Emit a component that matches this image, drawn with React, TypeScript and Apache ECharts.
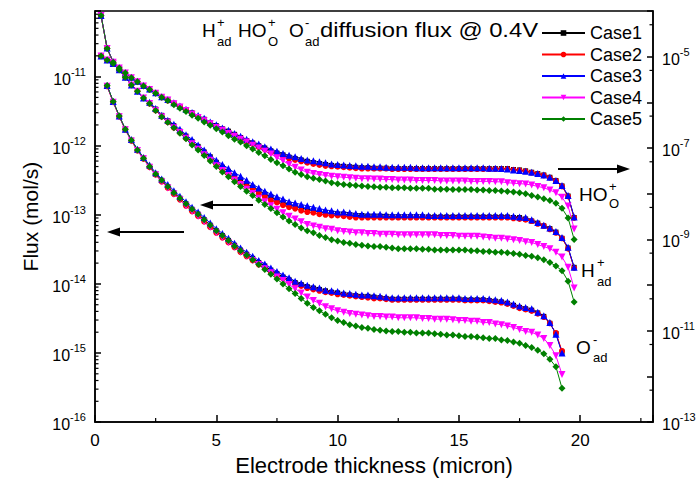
import React, { useEffect, useRef } from "react";
import * as echarts from "echarts";

const FONT = "'Liberation Sans', Arial, Helvetica, sans-serif";

// Electrode thickness (micron) of every sample point
const thickness = [
  0.25, 0.5, 0.75, 1, 1.25, 1.5, 1.75, 2, 2.25, 2.5, 2.75, 3,
  3.25, 3.5, 3.75, 4, 4.25, 4.5, 4.75, 5, 5.25, 5.5, 5.75, 6,
  6.25, 6.5, 6.75, 7, 7.25, 7.5, 7.75, 8, 8.25, 8.5, 8.75, 9,
  9.25, 9.5, 9.75, 10, 10.25, 10.5, 10.75, 11, 11.25, 11.5, 11.75, 12,
  12.25, 12.5, 12.75, 13, 13.25, 13.5, 13.75, 14, 14.25, 14.5, 14.75, 15,
  15.25, 15.5, 15.75, 16, 16.25, 16.5, 16.75, 17, 17.25, 17.5, 17.75, 18,
  18.25, 18.5, 18.75, 19, 19.25, 19.5, 19.75,
];

// All flux values are given as log10(flux / mol s^-1)
// HO+_O flux (right axis)
const hoCase1 = [
  -4.10, -4.82, -5.12, -5.25, -5.36, -5.46, -5.55, -5.64, -5.72, -5.80, -5.89, -5.95,
  -6.02, -6.09, -6.16, -6.23, -6.31, -6.37, -6.45, -6.51, -6.58, -6.63, -6.70, -6.77,
  -6.84, -6.89, -6.95, -7.00, -7.06, -7.11, -7.15, -7.20, -7.23, -7.26, -7.29, -7.32,
  -7.34, -7.36, -7.38, -7.39, -7.40, -7.41, -7.42, -7.43, -7.43, -7.44, -7.44, -7.44,
  -7.45, -7.45, -7.45, -7.45, -7.45, -7.45, -7.45, -7.45, -7.45, -7.45, -7.45, -7.45,
  -7.45, -7.45, -7.45, -7.45, -7.45, -7.45, -7.45, -7.45, -7.47, -7.48, -7.50, -7.53,
  -7.56, -7.59, -7.64, -7.71, -7.83, -8.05, -8.52,
];
const hoCase2 = [
  -4.11, -4.82, -5.12, -5.25, -5.36, -5.46, -5.55, -5.64, -5.72, -5.80, -5.89, -5.96,
  -6.03, -6.10, -6.17, -6.24, -6.32, -6.38, -6.46, -6.53, -6.59, -6.65, -6.72, -6.79,
  -6.86, -6.91, -6.98, -7.03, -7.09, -7.14, -7.18, -7.23, -7.26, -7.29, -7.32, -7.35,
  -7.37, -7.39, -7.40, -7.41, -7.42, -7.43, -7.44, -7.45, -7.45, -7.45, -7.45, -7.45,
  -7.46, -7.46, -7.46, -7.46, -7.46, -7.46, -7.46, -7.46, -7.46, -7.46, -7.46, -7.46,
  -7.46, -7.46, -7.46, -7.46, -7.46, -7.46, -7.46, -7.46, -7.48, -7.49, -7.51, -7.54,
  -7.57, -7.60, -7.65, -7.72, -7.84, -8.06, -8.53,
];
const hoCase3 = [
  -4.10, -4.81, -5.11, -5.24, -5.35, -5.45, -5.54, -5.63, -5.71, -5.79, -5.88, -5.94,
  -6.01, -6.08, -6.15, -6.22, -6.29, -6.35, -6.43, -6.49, -6.56, -6.61, -6.68, -6.74,
  -6.81, -6.86, -6.91, -6.97, -7.02, -7.07, -7.12, -7.16, -7.19, -7.23, -7.26, -7.28,
  -7.30, -7.32, -7.35, -7.36, -7.37, -7.38, -7.39, -7.40, -7.40, -7.41, -7.41, -7.42,
  -7.42, -7.42, -7.42, -7.42, -7.43, -7.43, -7.43, -7.43, -7.43, -7.43, -7.43, -7.43,
  -7.43, -7.43, -7.43, -7.43, -7.44, -7.44, -7.45, -7.46, -7.48, -7.49, -7.51, -7.53,
  -7.56, -7.59, -7.64, -7.71, -7.82, -8.04, -8.51,
];
const hoCase4 = [
  -4.10, -4.82, -5.12, -5.25, -5.36, -5.46, -5.55, -5.64, -5.72, -5.80, -5.89, -5.95,
  -6.03, -6.10, -6.18, -6.26, -6.33, -6.40, -6.47, -6.55, -6.61, -6.68, -6.74, -6.81,
  -6.87, -6.94, -7.00, -7.07, -7.13, -7.21, -7.28, -7.36, -7.42, -7.48, -7.53, -7.56,
  -7.58, -7.60, -7.62, -7.63, -7.64, -7.65, -7.66, -7.67, -7.67, -7.68, -7.68, -7.69,
  -7.69, -7.70, -7.70, -7.70, -7.71, -7.71, -7.71, -7.71, -7.72, -7.72, -7.72, -7.72,
  -7.72, -7.73, -7.73, -7.73, -7.73, -7.74, -7.74, -7.76, -7.77, -7.78, -7.79, -7.81,
  -7.84, -7.87, -7.92, -7.98, -8.08, -8.27, -8.77,
];
const hoCase5 = [
  -4.10, -4.82, -5.12, -5.25, -5.36, -5.46, -5.55, -5.64, -5.72, -5.80, -5.89, -5.96,
  -6.05, -6.13, -6.20, -6.28, -6.35, -6.43, -6.50, -6.58, -6.65, -6.73, -6.81, -6.87,
  -6.95, -7.02, -7.10, -7.17, -7.25, -7.32, -7.39, -7.46, -7.53, -7.58, -7.63, -7.66,
  -7.69, -7.72, -7.76, -7.78, -7.80, -7.81, -7.82, -7.83, -7.84, -7.85, -7.86, -7.86,
  -7.87, -7.87, -7.87, -7.88, -7.88, -7.88, -7.88, -7.90, -7.90, -7.90, -7.91, -7.91,
  -7.91, -7.91, -7.92, -7.92, -7.93, -7.93, -7.94, -7.95, -7.96, -7.98, -8.00, -8.04,
  -8.07, -8.11, -8.15, -8.21, -8.32, -8.53, -9.00,
];

// H+_ad flux (left axis)
const hCase1 = [
  -10.70, -10.76, -10.81, -10.90, -11.01, -11.12, -11.21, -11.31, -11.38, -11.47, -11.56, -11.64,
  -11.71, -11.79, -11.86, -11.94, -12.01, -12.09, -12.16, -12.24, -12.31, -12.37, -12.44, -12.49,
  -12.55, -12.60, -12.65, -12.70, -12.74, -12.79, -12.82, -12.85, -12.88, -12.90, -12.92, -12.94,
  -12.96, -12.97, -12.98, -12.99, -12.99, -13.00, -13.01, -13.01, -13.02, -13.02, -13.02, -13.02,
  -13.03, -13.03, -13.03, -13.03, -13.03, -13.03, -13.03, -13.03, -13.03, -13.03, -13.03, -13.03,
  -13.03, -13.03, -13.03, -13.03, -13.03, -13.03, -13.03, -13.03, -13.04, -13.04, -13.06, -13.09,
  -13.12, -13.16, -13.20, -13.25, -13.34, -13.48, -13.76,
];
const hCase2 = [
  -10.70, -10.76, -10.81, -10.90, -11.01, -11.12, -11.21, -11.31, -11.39, -11.49, -11.58, -11.66,
  -11.74, -11.81, -11.89, -11.96, -12.04, -12.12, -12.20, -12.27, -12.34, -12.41, -12.47, -12.54,
  -12.59, -12.64, -12.69, -12.74, -12.79, -12.82, -12.86, -12.89, -12.91, -12.94, -12.96, -12.97,
  -12.99, -13.00, -13.01, -13.01, -13.02, -13.03, -13.04, -13.04, -13.04, -13.04, -13.04, -13.04,
  -13.04, -13.04, -13.04, -13.04, -13.04, -13.04, -13.04, -13.04, -13.04, -13.04, -13.04, -13.04,
  -13.04, -13.04, -13.04, -13.04, -13.04, -13.04, -13.04, -13.04, -13.05, -13.06, -13.07, -13.09,
  -13.13, -13.16, -13.21, -13.26, -13.34, -13.49, -13.77,
];
const hCase3 = [
  -10.70, -10.76, -10.81, -10.90, -11.01, -11.12, -11.21, -11.31, -11.37, -11.46, -11.56, -11.63,
  -11.69, -11.76, -11.84, -11.91, -11.99, -12.06, -12.14, -12.21, -12.27, -12.33, -12.39, -12.44,
  -12.50, -12.56, -12.61, -12.66, -12.70, -12.74, -12.77, -12.81, -12.83, -12.85, -12.87, -12.89,
  -12.91, -12.93, -12.94, -12.96, -12.96, -12.97, -12.98, -12.99, -12.99, -12.99, -12.99, -13.00,
  -13.00, -13.00, -13.00, -13.00, -13.00, -13.00, -13.01, -13.01, -13.01, -13.01, -13.01, -13.01,
  -13.01, -13.01, -13.01, -13.01, -13.01, -13.01, -13.01, -13.01, -13.02, -13.03, -13.04, -13.07,
  -13.11, -13.15, -13.19, -13.24, -13.33, -13.47, -13.76,
];
const hCase4 = [
  -10.70, -10.76, -10.81, -10.90, -11.01, -11.12, -11.21, -11.31, -11.39, -11.49, -11.58, -11.66,
  -11.74, -11.81, -11.89, -11.97, -12.05, -12.13, -12.21, -12.29, -12.36, -12.43, -12.50, -12.56,
  -12.63, -12.69, -12.76, -12.81, -12.87, -12.92, -12.97, -13.02, -13.06, -13.10, -13.14, -13.16,
  -13.18, -13.20, -13.21, -13.23, -13.24, -13.25, -13.26, -13.26, -13.27, -13.27, -13.28, -13.28,
  -13.28, -13.29, -13.29, -13.29, -13.29, -13.29, -13.29, -13.29, -13.30, -13.30, -13.30, -13.31,
  -13.31, -13.31, -13.31, -13.32, -13.33, -13.34, -13.34, -13.35, -13.36, -13.37, -13.39, -13.40,
  -13.43, -13.46, -13.49, -13.54, -13.61, -13.76, -14.06,
];
const hCase5 = [
  -10.70, -10.76, -10.81, -10.90, -11.01, -11.12, -11.21, -11.31, -11.39, -11.49, -11.58, -11.66,
  -11.74, -11.82, -11.90, -11.99, -12.06, -12.14, -12.22, -12.30, -12.38, -12.45, -12.52, -12.59,
  -12.66, -12.72, -12.79, -12.85, -12.91, -12.97, -13.03, -13.09, -13.14, -13.19, -13.23, -13.26,
  -13.30, -13.33, -13.36, -13.38, -13.40, -13.41, -13.43, -13.44, -13.45, -13.46, -13.46, -13.47,
  -13.48, -13.49, -13.49, -13.49, -13.49, -13.50, -13.50, -13.51, -13.51, -13.51, -13.51, -13.51,
  -13.51, -13.52, -13.52, -13.53, -13.53, -13.54, -13.54, -13.55, -13.56, -13.57, -13.59, -13.60,
  -13.62, -13.65, -13.69, -13.74, -13.81, -13.96, -14.26,
];

// O-_ad flux (left axis), thickness 0.5 ... 19.25
const oCase1 = [
  -11.13, -11.36, -11.57, -11.76, -11.92, -12.06, -12.18, -12.30, -12.41, -12.50, -12.59, -12.68,
  -12.76, -12.84, -12.92, -12.99, -13.07, -13.15, -13.23, -13.30, -13.37, -13.44, -13.51, -13.57,
  -13.63, -13.69, -13.74, -13.80, -13.85, -13.90, -13.94, -13.98, -14.01, -14.04, -14.06, -14.08,
  -14.10, -14.12, -14.13, -14.15, -14.16, -14.17, -14.18, -14.18, -14.19, -14.20, -14.21, -14.22,
  -14.22, -14.22, -14.22, -14.22, -14.22, -14.22, -14.22, -14.22, -14.22, -14.22, -14.22, -14.23,
  -14.23, -14.23, -14.23, -14.24, -14.25, -14.26, -14.28, -14.31, -14.34, -14.36, -14.38, -14.42,
  -14.47, -14.57, -14.72, -14.99,
];
const oCase2 = [
  -11.14, -11.37, -11.58, -11.77, -11.93, -12.07, -12.19, -12.31, -12.42, -12.52, -12.61, -12.70,
  -12.78, -12.87, -12.95, -13.02, -13.10, -13.18, -13.26, -13.33, -13.40, -13.47, -13.54, -13.60,
  -13.66, -13.72, -13.77, -13.83, -13.88, -13.92, -13.96, -14.00, -14.03, -14.06, -14.08, -14.10,
  -14.12, -14.13, -14.15, -14.16, -14.17, -14.18, -14.19, -14.20, -14.21, -14.21, -14.22, -14.23,
  -14.23, -14.23, -14.23, -14.23, -14.23, -14.23, -14.23, -14.23, -14.23, -14.23, -14.23, -14.24,
  -14.24, -14.24, -14.24, -14.25, -14.26, -14.27, -14.29, -14.32, -14.35, -14.37, -14.39, -14.43,
  -14.48, -14.57, -14.71, -14.97,
];
const oCase3 = [
  -11.13, -11.36, -11.57, -11.76, -11.91, -12.05, -12.17, -12.28, -12.39, -12.48, -12.56, -12.65,
  -12.73, -12.81, -12.89, -12.96, -13.04, -13.12, -13.20, -13.27, -13.34, -13.41, -13.48, -13.54,
  -13.60, -13.66, -13.71, -13.77, -13.82, -13.87, -13.91, -13.96, -13.99, -14.02, -14.04, -14.06,
  -14.09, -14.10, -14.11, -14.13, -14.14, -14.15, -14.16, -14.16, -14.17, -14.18, -14.19, -14.20,
  -14.20, -14.20, -14.20, -14.20, -14.20, -14.20, -14.20, -14.20, -14.20, -14.20, -14.20, -14.21,
  -14.21, -14.21, -14.21, -14.22, -14.23, -14.24, -14.26, -14.29, -14.32, -14.34, -14.36, -14.41,
  -14.46, -14.56, -14.73, -15.00,
];
const oCase4 = [
  -11.14, -11.37, -11.58, -11.77, -11.93, -12.07, -12.19, -12.31, -12.42, -12.52, -12.61, -12.70,
  -12.78, -12.87, -12.95, -13.02, -13.10, -13.18, -13.26, -13.33, -13.40, -13.47, -13.54, -13.60,
  -13.66, -13.72, -13.78, -13.84, -13.90, -13.95, -14.01, -14.07, -14.13, -14.19, -14.24, -14.28,
  -14.33, -14.36, -14.39, -14.41, -14.43, -14.44, -14.45, -14.46, -14.47, -14.47, -14.48, -14.48,
  -14.49, -14.49, -14.49, -14.49, -14.50, -14.50, -14.51, -14.51, -14.51, -14.52, -14.53, -14.53,
  -14.54, -14.54, -14.56, -14.56, -14.58, -14.59, -14.61, -14.63, -14.66, -14.69, -14.70, -14.74,
  -14.79, -14.89, -15.04, -15.31,
];
const oCase5 = [
  -11.13, -11.36, -11.57, -11.76, -11.92, -12.06, -12.18, -12.30, -12.41, -12.50, -12.59, -12.68,
  -12.76, -12.84, -12.92, -12.99, -13.07, -13.15, -13.23, -13.30, -13.37, -13.45, -13.52, -13.58,
  -13.65, -13.72, -13.79, -13.86, -13.93, -14.00, -14.07, -14.14, -14.21, -14.28, -14.34, -14.39,
  -14.44, -14.49, -14.53, -14.56, -14.59, -14.61, -14.63, -14.64, -14.66, -14.67, -14.68, -14.69,
  -14.69, -14.70, -14.70, -14.71, -14.71, -14.71, -14.72, -14.73, -14.74, -14.74, -14.75, -14.76,
  -14.76, -14.77, -14.78, -14.79, -14.79, -14.81, -14.82, -14.84, -14.86, -14.89, -14.92, -14.96,
  -15.01, -15.09, -15.20, -15.51,
];

const caseNames = ["Case1", "Case2", "Case3", "Case4", "Case5"];
const xTickLabels = [0, 5, 10, 15, 20];
const xMinorTicks = [2.5, 7.5, 12.5, 17.5, 22.5];
const leftExponents = [-16, -15, -14, -13, -12, -11];
const rightExponents = [-13, -11, -9, -7, -5];

const hoCases = [hoCase1, hoCase2, hoCase3, hoCase4, hoCase5];
const hCases = [hCase1, hCase2, hCase3, hCase4, hCase5];
const oCases = [oCase1, oCase2, oCase3, oCase4, oCase5];

const caseColors = ["#000000", "#ff0000", "#0000ff", "#ff00ff", "#008000"];
const caseSymbols = ["rect", "circle", "triangle", "triangle", "diamond"];
const caseRotate = [0, 0, 0, 180, 0];
const caseSymbolSize = [5, 6, 7, 7, 7];

const oThickness = thickness.slice(1, 77);

const expLabel = (allowed: number[]) => (v: number) => {
  const n = Math.round(v);
  if (Math.abs(v - n) > 1e-6 || !allowed.includes(n)) return "";
  return `{b|10}{s|${n}}`;
};

const rich = {
  b: { fontSize: 16, fontFamily: FONT, color: "#000", verticalAlign: "bottom", lineHeight: 21 },
  s: { fontSize: 11, fontFamily: FONT, color: "#000", verticalAlign: "top", lineHeight: 11 },
};

const lineSeries = (c: number, name: string, xs: number[], ys: number[], yAxisIndex: number) => ({
  type: "line",
  name,
  yAxisIndex,
  data: xs.map((x, i) => [x, ys[i]]),
  symbol: caseSymbols[c],
  symbolSize: caseSymbolSize[c],
  symbolRotate: caseRotate[c],
  showSymbol: true,
  lineStyle: { color: caseColors[c], width: 1 },
  itemStyle: { color: caseColors[c] },
  emphasis: { disabled: true },
  silent: true,
});

const tickSeries = (data: number[][], yAxisIndex: number, dx: number, dy: number) => ({
  type: "custom",
  yAxisIndex,
  silent: true,
  z: 5,
  data,
  renderItem: (_p: any, api: any) => {
    const p = api.coord([api.value(0), api.value(1)]);
    return {
      type: "line",
      shape: { x1: p[0], y1: p[1], x2: p[0] + dx, y2: p[1] + dy },
      style: { stroke: "#000", lineWidth: 1.2 },
    };
  },
});

function buildOption() {
  const series: any[] = [];
  for (let c = 0; c < 5; c++) {
    series.push(lineSeries(c, caseNames[c], thickness, hoCases[c], 1));
    series.push(lineSeries(c, caseNames[c], thickness, hCases[c], 0));
    series.push(lineSeries(c, caseNames[c], oThickness, oCases[c], 0));
  }
  const leftMinor: number[][] = [];
  leftExponents.forEach((n) => {
    for (let m = 2; m <= 9; m++) {
      const v = n + Math.log10(m);
      if (v < -10.05) leftMinor.push([0, v]);
    }
  });
  const rightMinor: number[][] = [];
  for (let n = -13; n <= -5; n++) rightMinor.push([23, n + Math.log10(5)]);
  series.push(tickSeries(leftMinor, 0, 3.5, 0));
  series.push(tickSeries(rightMinor, 1, -3.5, 0));
  series.push(tickSeries(xMinorTicks.map((x) => [x, -16]), 0, 0, -4));

  const txt = (text: string, x: number, y: number, size: number, extra: any = {}, lineHeight?: number) => ({
    type: "text",
    x,
    y,
    silent: true,
    ...extra,
    style: {
      text,
      fontSize: size,
      fontFamily: FONT,
      fill: "#000",
      align: "left",
      verticalAlign: "middle",
      ...(lineHeight ? { lineHeight } : {}),
    },
  });
  // superscript stacked over subscript as one two-line text
  const supSub = (sup: string, sub: string, x: number, yMid: number, gap: number) =>
    txt(`${sup}\n${sub}`, x, yMid, 13, {}, gap);

  const arrow = (x1: number, x2: number, y: number) => {
    const dir = x2 > x1 ? 1 : -1;
    return [
      { type: "line", silent: true, shape: { x1, y1: y, x2: x2 - dir * 10, y2: y }, style: { stroke: "#000", lineWidth: 2 } },
      {
        type: "polygon",
        silent: true,
        shape: { points: [[x2, y], [x2 - dir * 13, y - 4.5], [x2 - dir * 13, y + 4.5]] },
        style: { fill: "#000" },
      },
    ];
  };

  const graphic = [
    txt("H", 202, 30, 19),
    supSub("+", "ad", 217, 31.5, 19),
    txt("HO", 238, 30, 19),
    supSub("+", "O", 268, 31.5, 19),
    txt("O", 289, 30, 19),
    supSub("-", "ad", 305, 31.5, 19),
    txt("diffusion flux @ 0.4V", 320, 30, 20, { scaleX: 1.19 }),
    txt("HO", 579, 194, 19),
    supSub("+", "O", 609, 194.5, 17),
    txt("H", 581, 270, 19),
    supSub("+", "ad", 597, 271.5, 19),
    txt("O", 576, 347, 19),
    supSub("-", "ad", 593, 348, 18),
    ...arrow(558, 630, 169),
    ...arrow(253, 200, 205),
    ...arrow(184, 107, 232),
  ];

  return {
    animation: false,
    backgroundColor: "#ffffff",
    grid: { left: 95, right: 46, top: 11, bottom: 53, show: true, borderColor: "#000", borderWidth: 1.5 },
    legend: {
      data: caseNames,
      orient: "vertical",
      left: 541,
      top: 24,
      padding: 0,
      itemWidth: 43,
      itemHeight: 7,
      itemGap: 3.5,
      selectedMode: false,
      textStyle: { color: "#000", fontSize: 18, fontFamily: FONT },
    },
    xAxis: {
      type: "value",
      min: 0,
      max: 23,
      interval: 5,
      axisLine: { show: true, onZero: false, lineStyle: { color: "#000", width: 1.5 } },
      axisTick: { show: true, inside: true, length: 7, lineStyle: { color: "#000", width: 1.5 } },
      axisLabel: {
        color: "#000",
        fontSize: 17,
        fontFamily: FONT,
        margin: 10,
        formatter: (v: number) => (xTickLabels.includes(v) ? String(v) : ""),
      },
      splitLine: { show: false },
      name: "Electrode thickness (micron)",
      nameLocation: "middle",
      nameGap: 28,
      nameTextStyle: { color: "#000", fontSize: 22, fontFamily: FONT },
    },
    yAxis: [
      {
        type: "value",
        min: -16,
        max: -10.05,
        interval: 1,
        position: "left",
        axisLine: { show: true, onZero: false, lineStyle: { color: "#000", width: 1.5 } },
        axisTick: { show: true, inside: true, length: 6, lineStyle: { color: "#000", width: 1.5 } },
        axisLabel: { formatter: expLabel(leftExponents), rich, margin: 9 },
        splitLine: { show: false },
        name: "Flux (mol/s)",
        nameLocation: "middle",
        nameGap: 50,
        nameRotate: 90,
        nameTextStyle: { color: "#000", fontSize: 21, fontFamily: FONT },
      },
      {
        type: "value",
        min: -13,
        max: -4,
        interval: 1,
        position: "right",
        axisLine: { show: true, onZero: false, lineStyle: { color: "#000", width: 1.5 } },
        axisTick: { show: true, inside: true, length: 6, lineStyle: { color: "#000", width: 1.5 } },
        axisLabel: { formatter: expLabel(rightExponents), rich, margin: 9 },
        splitLine: { show: false },
      },
    ],
    series,
    graphic,
  };
}

export default function App() {
  const ref = useRef<HTMLDivElement>(null);
  useEffect(() => {
    const chart = echarts.init(ref.current!, null, { renderer: "svg" });
    chart.setOption(buildOption() as any);
    return () => chart.dispose();
  }, []);
  return (
    <div
      ref={ref}
      style={{ position: "absolute", left: 0, top: 0, width: 699, height: 481, background: "#fff" }}
    />
  );
}
